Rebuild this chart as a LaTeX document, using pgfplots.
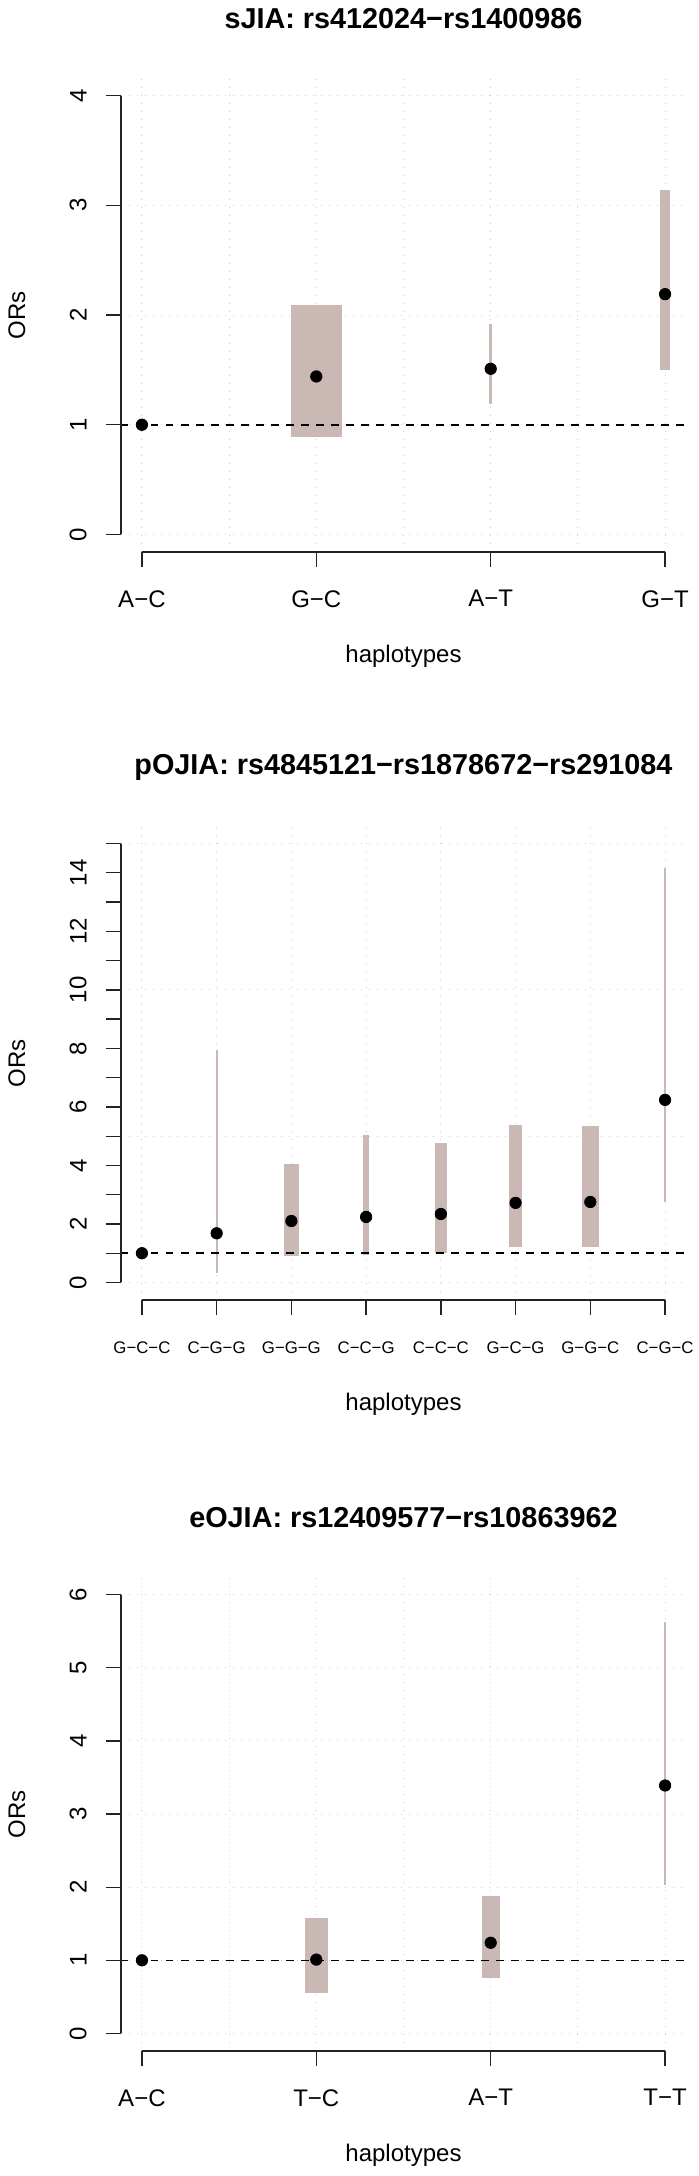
\documentclass[border=0pt]{standalone}
\usepackage{fontspec}
\setmainfont{Liberation Sans}
\usepackage{pgfplots}
\pgfplotsset{compat=1.18}

\definecolor{cishade}{RGB}{202,184,181}
\definecolor{rgrid}{RGB}{205,205,205}
\definecolor{raxis}{RGB}{35,35,35}

\newcommand{\lbl}{\fontsize{12}{14}\selectfont}

\tikzset{raxisline/.style={raxis, line width=0.65pt}}

\pgfplotsset{
  rpanel/.style={
    scale only axis, width=282.5pt, height=237pt,
    anchor=north west, clip=false,
    axis x line*=bottom, axis y line*=left,
    axis line style={draw=none},
    tick align=outside, major tick length=7.5pt, minor tick length=0pt,
    every tick/.style={raxis, line width=0.65pt},
    grid style={rgrid, line width=0.5pt, dash pattern=on 0.7pt off 3.3pt},
    ticklabel style={font=\lbl},
    /pgf/number format/assume math mode=true,
    yticklabel style={rotate=90, anchor=south, inner sep=0pt},
    xticklabel style={anchor=north, inner sep=0pt},
    yticklabel shift=9.5pt, xticklabel shift=11.5pt,
    every axis title/.style={at={(0.5,1.1245)}, anchor=center,
      font=\bfseries\fontsize{14.4}{17}\selectfont},
    every axis x label/.style={at={(0.5,-0.2205)}, anchor=center, font=\lbl},
    every axis y label/.style={at={(-0.1841,0.5)}, anchor=center, rotate=90, font=\lbl},
    xlabel={haplotypes}, ylabel={ORs},
  },
  ci/.style={fill=cishade, draw=none},
  ormark/.style={only marks, mark=*, mark size=2.85pt, black},
  refline/.style={black, line width=0.8pt, dash pattern=on 3.75pt off 3.75pt},
}

\begin{document}
\begin{tikzpicture}
\useasboundingbox (0,0) rectangle (349pt,-1088pt);

% sJIA
\begin{axis}[rpanel, at={(60.5pt,-39pt)},
    title={sJIA: rs412024−rs1400986},
    xmin=0.88, xmax=4.12, ymin=-0.16, ymax=4.16,
    xtick={1,2,3,4}, xticklabels={A−C,G−C,A−T,G−T},
    minor xtick={1.5,2.5,3.5},
    ytick={0,1,2,3,4},
    xmajorgrids, xminorgrids, ymajorgrids]
\addplot[ci] coordinates {(1.855,0.888) (2.145,0.888) (2.145,2.09) (1.855,2.09)} -- cycle;
\addplot[ci] coordinates {(2.993,1.186) (3.007,1.186) (3.007,1.922) (2.993,1.922)} -- cycle;
\addplot[ci] coordinates {(3.973,1.503) (4.027,1.503) (4.027,3.139) (3.973,3.139)} -- cycle;
\addplot[refline] coordinates {(0.88,1) (4.12,1)};
\addplot[ormark] coordinates {(1,1) (2,1.44) (3,1.51) (4,2.19)};
\draw[raxisline] (axis cs:1,-0.16) -- (axis cs:4,-0.16);
\draw[raxisline] (axis cs:0.88,0) -- (axis cs:0.88,4);
\end{axis}

% pOJIA
\begin{axis}[rpanel, at={(60.5pt,-413pt)},
    title={pOJIA: rs4845121−rs1878672−rs291084},
    xmin=0.72, xmax=8.28, ymin=-0.6, ymax=15.6,
    xtick={1,...,8},
    xticklabels={G−C−C,C−G−G,G−G−G,C−C−G,C−C−C,G−C−G,G−G−C,C−G−C},
    xticklabel style={font=\fontsize{8.4}{10}\selectfont},
    xticklabel shift=13.3pt,
    ytick={0,2,...,14}, minor ytick={1,3,...,15},
    minor tick length=7.5pt,
    extra y ticks={0,5,10,15}, extra y tick labels={},
    extra y tick style={grid=major, major tick length=0pt},
    xmajorgrids]
\addplot[ci] coordinates {(1.9865,0.33) (2.0135,0.33) (2.0135,7.93) (1.9865,7.93)} -- cycle;
\addplot[ci] coordinates {(2.895,0.906) (3.105,0.906) (3.105,4.04) (2.895,4.04)} -- cycle;
\addplot[ci] coordinates {(3.962,0.94) (4.038,0.94) (4.038,5.04) (3.962,5.04)} -- cycle;
\addplot[ci] coordinates {(4.915,1.01) (5.085,1.01) (5.085,4.76) (4.915,4.76)} -- cycle;
\addplot[ci] coordinates {(5.915,1.22) (6.085,1.22) (6.085,5.37) (5.915,5.37)} -- cycle;
\addplot[ci] coordinates {(6.884,1.22) (7.116,1.22) (7.116,5.35) (6.884,5.35)} -- cycle;
\addplot[ci] coordinates {(7.9865,2.74) (8.0135,2.74) (8.0135,14.15) (7.9865,14.15)} -- cycle;
\addplot[refline] coordinates {(0.72,1) (8.28,1)};
\addplot[ormark] coordinates {(1,1) (2,1.68) (3,2.10) (4,2.24) (5,2.34) (6,2.72) (7,2.75) (8,6.24)};
\draw[raxisline] (axis cs:1,-0.6) -- (axis cs:8,-0.6);
\draw[raxisline] (axis cs:0.72,0) -- (axis cs:0.72,15);
\end{axis}

% eOJIA
\begin{axis}[rpanel, at={(60.5pt,-788.5pt)},
    title={eOJIA: rs12409577−rs10863962},
    xmin=0.88, xmax=4.12, ymin=-0.24, ymax=6.24,
    xtick={1,2,3,4}, xticklabels={A−C,T−C,A−T,T−T},
    minor xtick={1.5,2.5,3.5},
    ytick={0,...,6},
    xmajorgrids, xminorgrids, ymajorgrids]
\addplot[ci] coordinates {(1.935,0.56) (2.065,0.56) (2.065,1.58) (1.935,1.58)} -- cycle;
\addplot[ci] coordinates {(2.9485,0.76) (3.0515,0.76) (3.0515,1.886) (2.9485,1.886)} -- cycle;
\addplot[ci] coordinates {(3.9925,2.03) (4.0075,2.03) (4.0075,5.63) (3.9925,5.63)} -- cycle;
\addplot[refline] coordinates {(0.88,1) (4.12,1)};
\addplot[ormark] coordinates {(1,1) (2,1.01) (3,1.24) (4,3.39)};
\draw[raxisline] (axis cs:1,-0.24) -- (axis cs:4,-0.24);
\draw[raxisline] (axis cs:0.88,0) -- (axis cs:0.88,6);
\end{axis}
\end{tikzpicture}
\end{document}
